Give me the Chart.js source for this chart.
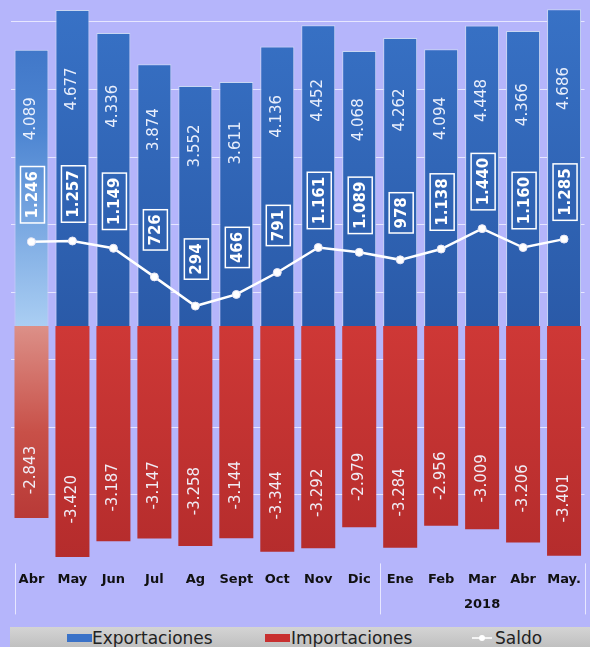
<!DOCTYPE html>
<html>
<head>
<meta charset="utf-8">
<script src="https://cdn.jsdelivr.net/npm/chart.js@4.4.1/dist/chart.umd.min.js"></script>
<style>
  html, body { margin: 0; padding: 0; background: #b5b5fb; }
  #wrap { position: relative; width: 590px; height: 647px; overflow: hidden; background: #b5b5fb; }
  #c { position: absolute; left: 0; top: 0; }
  #legend { position: absolute; left: 10px; top: 627px; width: 580px; height: 24px;
    background: linear-gradient(#d4d4d4, #bcbcbc); font-family: "DejaVu Sans", Verdana, sans-serif;
    font-size: 17px; color: #222; }
  #legend .sw { position: absolute; }
  #legend .tx { position: absolute; top: 1px; line-height: 20px; white-space: nowrap; }
</style>
</head>
<body>
<div id="wrap">
  <canvas id="c" width="590" height="627"></canvas>
  <div id="legend"></div>
</div>
<script>
// ---- data ----
const categories = ['Abr', 'May', 'Jun', 'Jul', 'Ag', 'Sept', 'Oct', 'Nov', 'Dic', 'Ene', 'Feb', 'Mar', 'Abr', 'May.'];
const exportaciones = [4089, 4677, 4336, 3874, 3552, 3611, 4136, 4452, 4068, 4262, 4094, 4448, 4366, 4686];
const importaciones = [-2843, -3420, -3187, -3147, -3258, -3144, -3344, -3292, -2979, -3284, -2956, -3009, -3206, -3401];
const saldo = [1246, 1257, 1149, 726, 294, 466, 791, 1161, 1089, 978, 1138, 1440, 1160, 1285];
const yearLabel = '2018';
const yearFirst = 'Ene';   // first category of the 2018 group
const gridValues = [-2500, -1500, -500, 500, 1500, 2500, 3500, 4500];

function fmt(v) {
  const s = Math.abs(v).toString().replace(/\B(?=(\d{3})+(?!\d))/g, '.');
  return (v < 0 ? '-' : '') + s;
}

function blueFill(context) {
  const chart = context.chart;
  if (!chart.chartArea) return '#3068b8';
  const y = chart.scales.y;
  const g = chart.ctx.createLinearGradient(0, y.getPixelForValue(4750), 0, y.getPixelForValue(0));
  if (context.dataIndex === 0) {
    g.addColorStop(0, '#3a70c4');
    g.addColorStop(0.4, '#4e86d2');
    g.addColorStop(1, '#aacef3');
  } else {
    g.addColorStop(0, '#3872c6');
    g.addColorStop(1, '#2a5aa8');
  }
  return g;
}
function redFill(context) {
  const chart = context.chart;
  if (!chart.chartArea) return '#c23232';
  const y = chart.scales.y;
  const g = chart.ctx.createLinearGradient(0, y.getPixelForValue(0), 0, y.getPixelForValue(-3500));
  if (context.dataIndex === 0) {
    g.addColorStop(0, '#dc9088');
    g.addColorStop(0.45, '#c85048');
    g.addColorStop(1, '#b02e2e');
  } else {
    g.addColorStop(0, '#ce3836');
    g.addColorStop(1, '#b42c2c');
  }
  return g;
}

const labelPlugin = {
  id: 'valueLabels',
  afterDatasetsDraw(chart) {
    const ctx = chart.ctx;
    const y = chart.scales.y;
    ctx.save();
    [0, 1].forEach(di => {
      const meta = chart.getDatasetMeta(di);
      const data = chart.data.datasets[di].data;
      meta.data.forEach((bar, i) => {
        const py = y.getPixelForValue(data[i] * 0.75);
        ctx.save();
        ctx.translate(bar.x, py);
        ctx.rotate(-Math.PI / 2);
        ctx.font = '15px "DejaVu Sans"';
        ctx.fillStyle = 'rgba(242,246,255,0.95)';
        ctx.textAlign = 'center';
        ctx.textBaseline = 'middle';
        ctx.fillText(fmt(data[i]), 0, 0);
        ctx.restore();
      });
    });
    const lm = chart.getDatasetMeta(2);
    const sd = chart.data.datasets[2].data;
    lm.data.forEach((pt, i) => {
      const text = fmt(sd[i]);
      ctx.save();
      ctx.font = 'bold 15px "DejaVu Sans"';
      const w = ctx.measureText(text).width;
      const len = w + 9;
      ctx.translate(pt.x + 1, pt.y - 47);
      ctx.rotate(-Math.PI / 2);
      ctx.strokeStyle = '#ffffff';
      ctx.lineWidth = 1.5;
      ctx.strokeRect(-len / 2, -12, len, 24);
      ctx.fillStyle = '#ffffff';
      ctx.textAlign = 'center';
      ctx.textBaseline = 'middle';
      ctx.fillText(text, 0, 1);
      ctx.restore();
    });
    ctx.restore();
  },
  afterDraw(chart) {
    const ctx = chart.ctx;
    const x = chart.scales.x;
    const half = (x.getPixelForValue(1) - x.getPixelForValue(0)) / 2;
    const yi = categories.indexOf(yearFirst);
    const bounds = [x.getPixelForValue(0) - half + 4, x.getPixelForValue(yi) - half, x.getPixelForValue(categories.length - 1) + half];
    ctx.save();
    ctx.strokeStyle = 'rgba(236,236,255,0.9)';
    ctx.lineWidth = 1;
    bounds.forEach(bx => {
      const px = Math.round(bx) + 0.5;
      ctx.beginPath();
      ctx.moveTo(px, chart.chartArea.bottom + 1);
      ctx.lineTo(px, chart.chartArea.bottom + 52);
      ctx.stroke();
    });
    const cx = (x.getPixelForValue(yi) + x.getPixelForValue(categories.length - 1)) / 2;
    ctx.font = 'bold 13px "DejaVu Sans"';
    ctx.fillStyle = '#111';
    ctx.textAlign = 'center';
    ctx.textBaseline = 'middle';
    ctx.fillText(yearLabel, cx, chart.chartArea.bottom + 42);
    ctx.restore();
  }
};

const htmlLegend = {
  id: 'htmlLegend',
  afterUpdate(chart) {
    const box = document.getElementById('legend');
    box.innerHTML = '';
    const layout = [
      { sw: 57, tx: 82 },
      { sw: 255, tx: 281 },
      { sw: 462, tx: 485 }
    ];
    chart.data.datasets.forEach((ds, i) => {
      const l = layout[i];
      const sw = document.createElement('div');
      sw.className = 'sw';
      if (ds.type === 'line') {
        sw.style.cssText = 'left:' + l.sw + 'px;top:10px;width:20px;height:2px;background:#f4f4f4;';
        const dot = document.createElement('div');
        dot.style.cssText = 'position:absolute;left:7px;top:-2px;width:6px;height:6px;border-radius:50%;background:#fff;';
        sw.appendChild(dot);
      } else {
        sw.style.cssText = 'left:' + l.sw + 'px;top:7px;width:25px;height:8px;background:' + ds.legendColor + ';';
      }
      const tx = document.createElement('div');
      tx.className = 'tx';
      tx.style.left = l.tx + 'px';
      tx.textContent = ds.label;
      box.appendChild(sw);
      box.appendChild(tx);
    });
  }
};

new Chart(document.getElementById('c'), {
  data: {
    labels: categories,
    datasets: [
      { type: 'bar', label: 'Exportaciones', data: exportaciones, stack: 'trade', order: 1,
        backgroundColor: blueFill, borderColor: '#c9d6f2', borderWidth: 1, borderSkipped: 'bottom',
        legendColor: '#3a72c8', barPercentage: 0.83, categoryPercentage: 1 },
      { type: 'bar', label: 'Importaciones', data: importaciones, stack: 'trade', order: 1,
        backgroundColor: redFill, borderColor: '#a02828', borderWidth: 0,
        legendColor: '#c83030', barPercentage: 0.83, categoryPercentage: 1 },
      { type: 'line', label: 'Saldo', data: saldo, stack: 'saldo', order: 0,
        borderColor: '#ffffff', borderWidth: 2.5, pointRadius: 4, pointBackgroundColor: '#ffffff',
        pointBorderColor: '#e6e6f6', pointBorderWidth: 1, tension: 0, fill: false }
    ]
  },
  options: {
    responsive: false,
    devicePixelRatio: 1,
    animation: false,
    layout: { padding: { left: 11, right: 0, top: 0, bottom: 31 } },
    plugins: { legend: { display: false }, tooltip: { enabled: false } },
    scales: {
      x: {
        stacked: true,
        grid: { display: false, drawTicks: false },
        border: { display: false },
        ticks: { color: '#111', font: { family: 'DejaVu Sans', size: 13, weight: 'bold' }, padding: 9, maxRotation: 0, autoSkip: false }
      },
      y: {
        stacked: true,
        min: -3500, max: 4750,
        afterBuildTicks(scale) { scale.ticks = gridValues.map(v => ({ value: v })); },
        grid: { color: 'rgba(238,238,255,0.85)', lineWidth: 1, drawTicks: false },
        border: { display: false },
        ticks: { display: false }
      }
    }
  },
  plugins: [labelPlugin, htmlLegend]
});
</script>
</body>
</html>
